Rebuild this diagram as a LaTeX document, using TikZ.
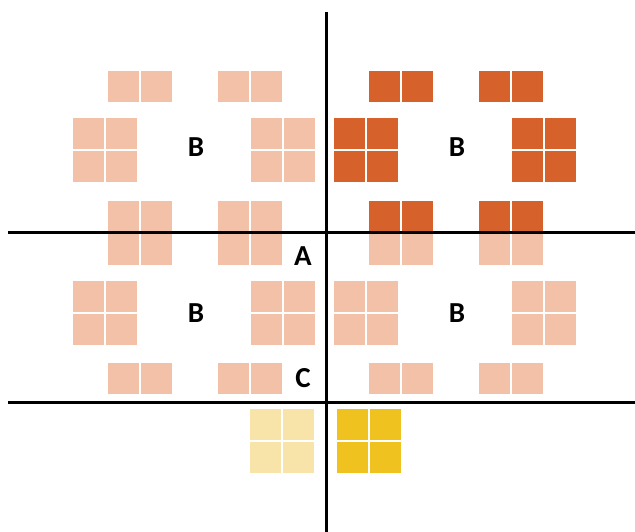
\documentclass[tikz,border=0pt]{standalone}
\usepackage{fontspec}
\setmainfont{Carlito}
\definecolor{peach}{HTML}{F2C1A7}
\definecolor{rust}{HTML}{D6612A}
\definecolor{paleyellow}{HTML}{F8E3A9}
\definecolor{gold}{HTML}{EFC21F}
% block of square tiles: x, y, cols, rows, colour
\newcommand{\tiles}[5]{%
  \foreach \i in {1,...,#3}{
    \foreach \j in {1,...,#4}{
      \fill[#5] ({#1+(\i-1)*33},{#2+(\j-1)*33}) rectangle +(31,31);
    }
  }%
}

\begin{document}
\begin{tikzpicture}[x=1pt, y=-1pt,
    lbl/.style={inner sep=0pt, font=\fontsize{29}{29}\selectfont\bfseries},
    axis/.style={line width=3pt}]
  \useasboundingbox (0,0) rectangle (635,532);

  % Upper left group (light)
  \tiles{108}{71}{2}{1}{peach}
  \tiles{218}{71}{2}{1}{peach}
  \tiles{73}{118}{2}{2}{peach}
  \tiles{251}{118}{2}{2}{peach}
  \tiles{108}{201}{2}{2}{peach}
  \tiles{218}{201}{2}{2}{peach}

  % Upper right group (dark, last row light)
  \tiles{369}{71}{2}{1}{rust}
  \tiles{479}{71}{2}{1}{rust}
  \tiles{334}{118}{2}{2}{rust}
  \tiles{512}{118}{2}{2}{rust}
  \tiles{369}{201}{2}{1}{rust}
  \tiles{479}{201}{2}{1}{rust}
  \tiles{369}{234}{2}{1}{peach}
  \tiles{479}{234}{2}{1}{peach}

  % Lower groups (light)
  \foreach \dx in {0,261}{
    \tiles{73+\dx}{281}{2}{2}{peach}
    \tiles{251+\dx}{281}{2}{2}{peach}
    \tiles{108+\dx}{363}{2}{1}{peach}
    \tiles{218+\dx}{363}{2}{1}{peach}
  }

  % Yellow pair below the bottom line
  \tiles{250}{409}{2}{2}{paleyellow}
  \tiles{337}{409}{2}{2}{gold}

  % Axes
  \coordinate (vtop) at (326,12);
  \coordinate (vbot) at (326,532);
  \coordinate (h1l) at (8,232);
  \coordinate (h1r) at (635,232);
  \coordinate (h2l) at (8,402);
  \coordinate (h2r) at (635,402);
  \draw[axis] (h1l) -- (h1r);
  \draw[axis] (h2l) -- (h2r);
  \draw[axis] (vtop) -- (vbot);

  % Labels
  \node[lbl] (bul) at (196,147) {B};
  \node[lbl] (bur) at (457,147) {B};
  \node[lbl] (bll) at (196,313) {B};
  \node[lbl] (blr) at (457,313) {B};
  \node[lbl] (a) at (303,256) {A};
  \node[lbl] (c) at (303,378) {C};
\end{tikzpicture}
\end{document}
